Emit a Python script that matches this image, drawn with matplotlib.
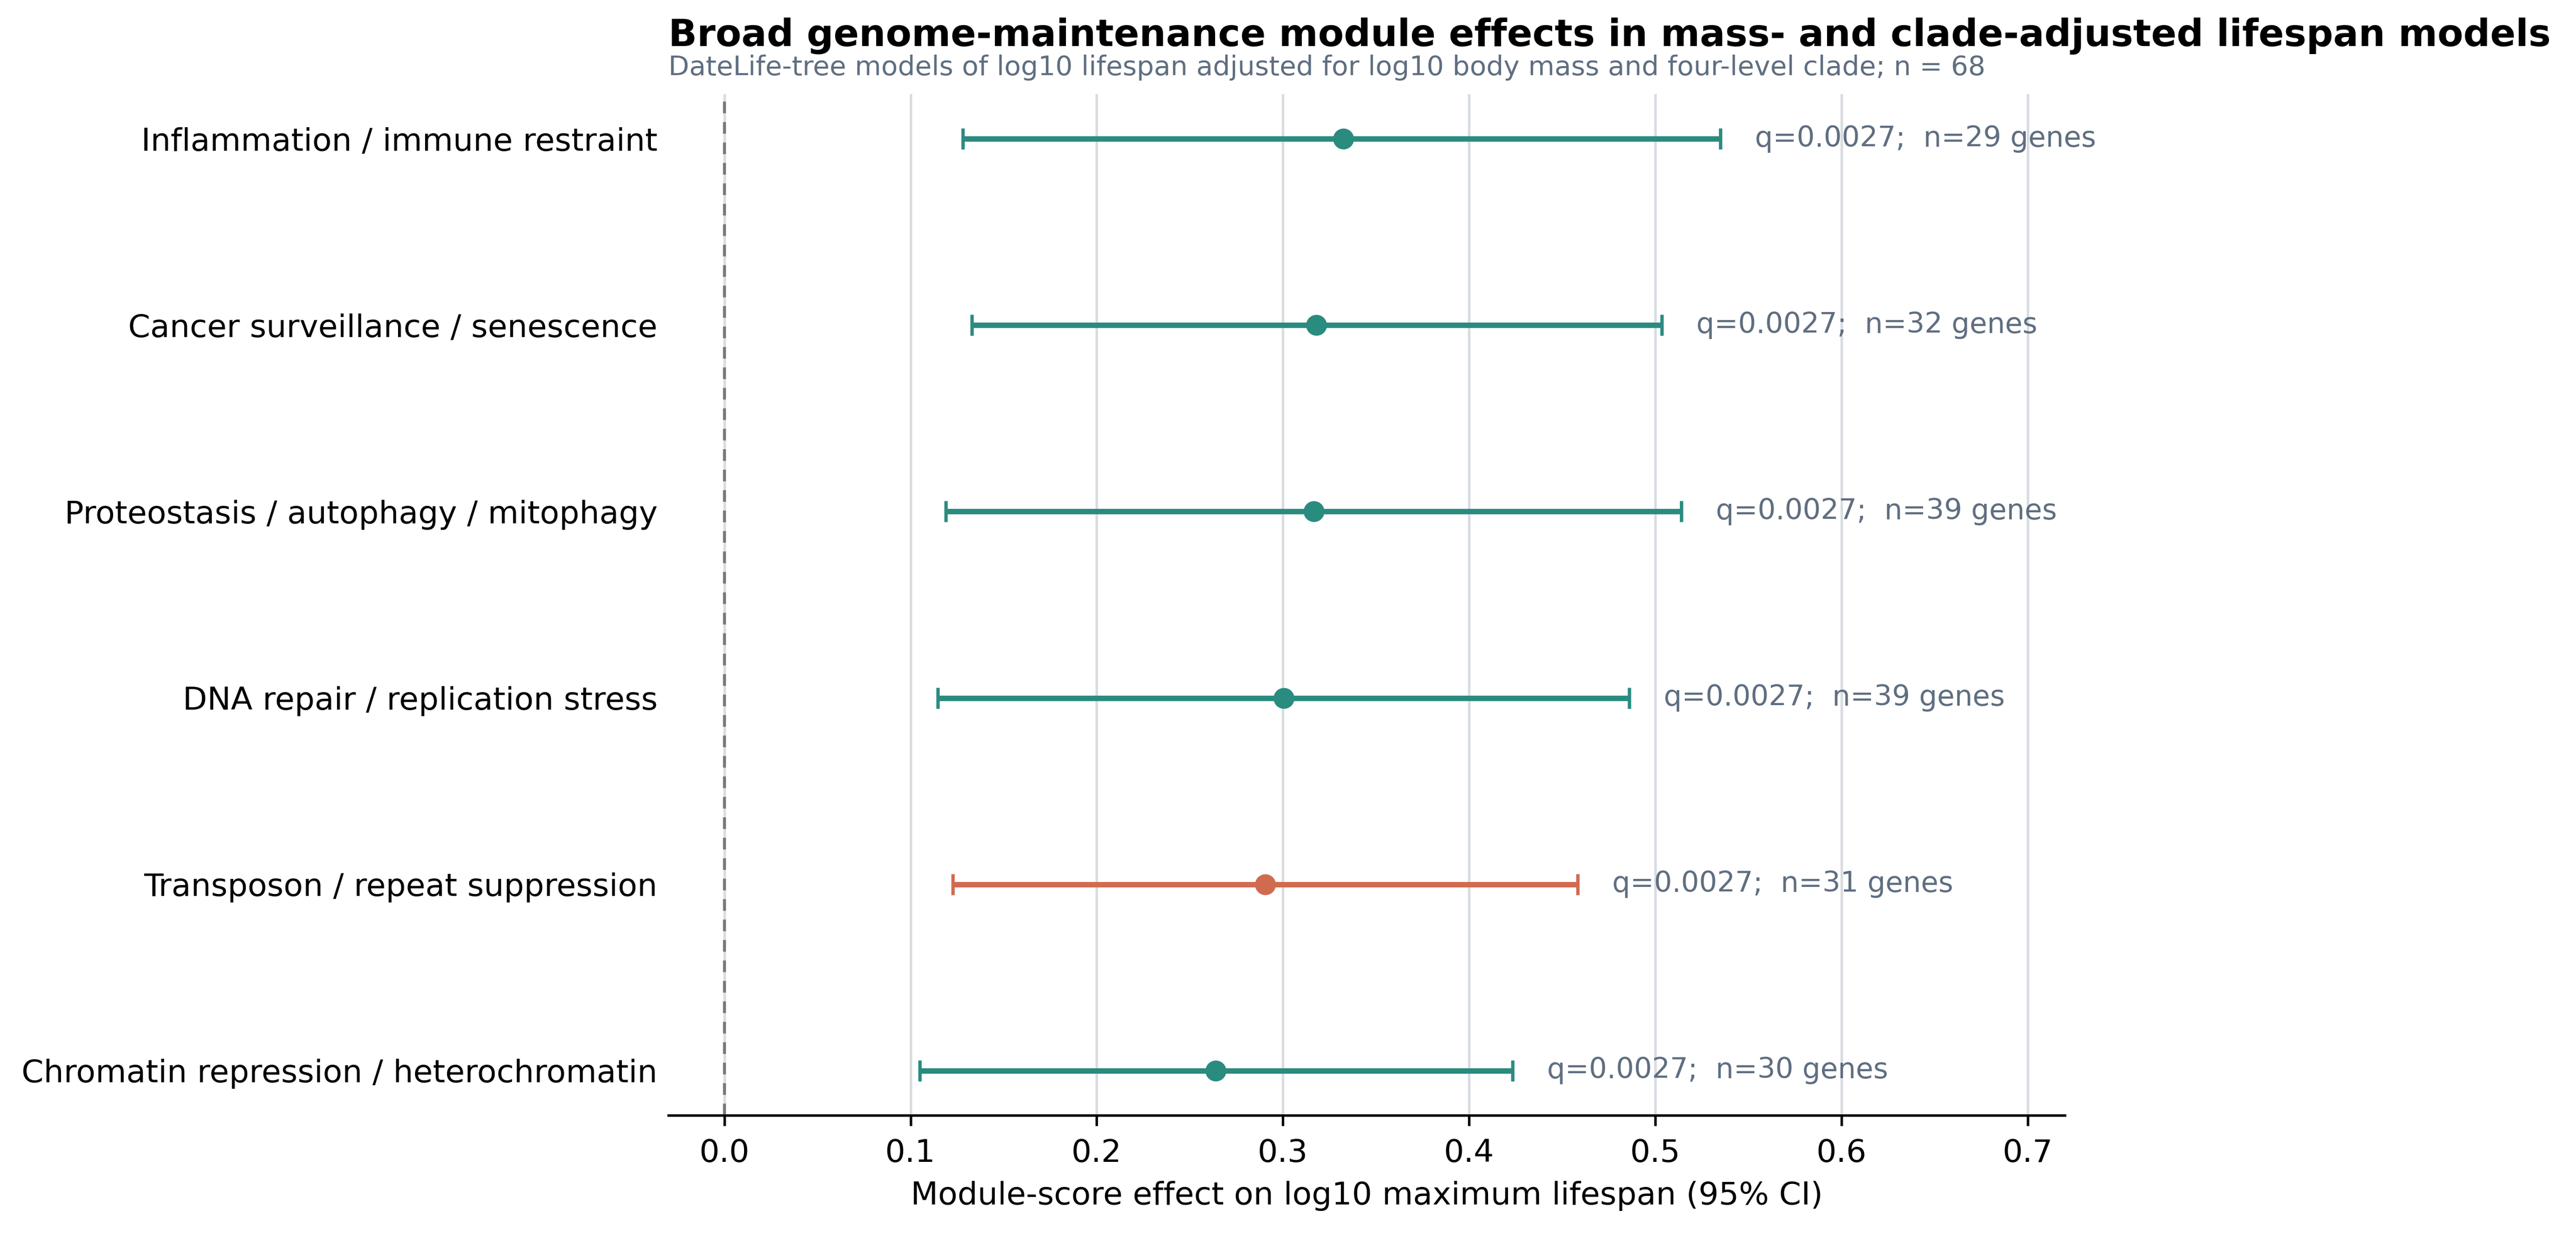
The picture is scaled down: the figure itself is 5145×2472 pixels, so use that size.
import matplotlib
matplotlib.use("Agg")
import matplotlib.pyplot as plt

modules = [
    "Chromatin repression / heterochromatin",
    "Transposon / repeat suppression",
    "DNA repair / replication stress",
    "Proteostasis / autophagy / mitophagy",
    "Cancer surveillance / senescence",
    "Inflammation / immune restraint",
]
effect = [0.264, 0.2905, 0.3005, 0.3165, 0.318, 0.3325]
ci_low = [0.105, 0.1226, 0.1146, 0.119, 0.133, 0.128]
ci_high = [0.4234, 0.4584, 0.486, 0.514, 0.5035, 0.535]
q_values = [0.0027, 0.0027, 0.0027, 0.0027, 0.0027, 0.0027]
n_genes = [30, 31, 39, 39, 32, 29]
highlight = [False, True, False, False, False, False]

TEAL = "#2a8b7f"
ORANGE = "#d06b50"
SLATE = "#5f6e80"

fig = plt.figure(figsize=(5145 / 300, 2472 / 300), dpi=300)
ax = fig.add_axes([0.2595, 0.099, 0.5421, 0.825])

for i, (m, e, lo, hi, q, n, h) in enumerate(zip(modules, effect, ci_low, ci_high, q_values, n_genes, highlight)):
    c = ORANGE if h else TEAL
    ax.errorbar([e], [i], xerr=[[e - lo], [hi - e]], fmt="o", color=c, ecolor=c,
                elinewidth=2.6, capsize=5, capthick=1.6, markersize=9, zorder=3)
    ax.text(hi + 0.0185, i, f"q={q:.4f};  n={n} genes", va="center", ha="left",
            fontsize=13.6, color=SLATE)

ax.axvline(0, color="#777777", lw=1.4, ls=(0, (4, 3)), zorder=1)
ax.set_xlim(-0.03, 0.72)
ax.set_ylim(-0.24, 5.24)
ax.set_xticks([0.0, 0.1, 0.2, 0.3, 0.4, 0.5, 0.6, 0.7])
ax.set_xticklabels(["0.0", "0.1", "0.2", "0.3", "0.4", "0.5", "0.6", "0.7"])
ax.set_yticks(range(len(modules)))
ax.set_yticklabels(modules)
ax.xaxis.grid(True, color="#d8dce1", lw=1.2, zorder=0)
ax.set_axisbelow(True)
for s in ["top", "right", "left"]:
    ax.spines[s].set_visible(False)
ax.spines["bottom"].set_linewidth(1.2)
ax.tick_params(axis="y", length=0, pad=5.2, labelsize=15.2)
ax.tick_params(axis="x", labelsize=15.2, length=5, width=1.2, pad=6)
ax.set_xlabel("Module-score effect on log10 maximum lifespan (95% CI)", fontsize=15.2, labelpad=6)

ax.text(0.0, 1.057, "Broad genome-maintenance module effects in mass- and clade-adjusted lifespan models",
        transform=ax.transAxes, ha="left", va="center", fontsize=18, fontweight="bold")
ax.text(0.0, 1.026, "DateLife-tree models of log10 lifespan adjusted for log10 body mass and four-level clade; n = 68",
        transform=ax.transAxes, ha="left", va="center", fontsize=13, color=SLATE)

fig.savefig("out.png", dpi=300)
